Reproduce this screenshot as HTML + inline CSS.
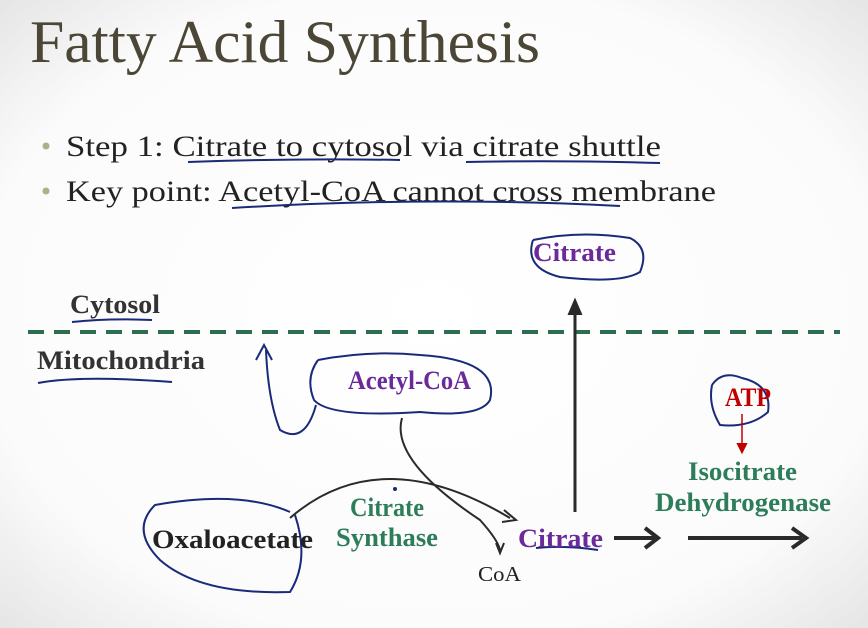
<!DOCTYPE html>
<html><head><meta charset="utf-8"><style>
html,body{margin:0;padding:0;width:868px;height:628px;overflow:hidden;background:#f4f4f4;}
svg{display:block;}
.t{font-family:"Liberation Serif",serif;}
</style></head><body>
<svg width="868" height="628" viewBox="0 0 868 628">
<defs>
<radialGradient id="bg" cx="50%" cy="50%" r="70%">
<stop offset="0" stop-color="#ffffff"/><stop offset="0.75" stop-color="#fbfbfb"/><stop offset="1" stop-color="#e6e6e6"/>
</radialGradient>
</defs>
<rect width="868" height="628" fill="url(#bg)"/>
<text class="t" x="30" y="62" font-size="60" fill="#4b4636" textLength="510" lengthAdjust="spacingAndGlyphs">Fatty Acid Synthesis</text>
<g class="t" font-size="30" fill="#222">
<circle cx="46" cy="146" r="3.5" fill="#a9b38a"/>
<text x="66" y="156" textLength="595" lengthAdjust="spacingAndGlyphs">Step 1: Citrate to cytosol via citrate shuttle</text>
<circle cx="46" cy="191" r="3.5" fill="#a9b38a"/>
<text x="66" y="201" textLength="650" lengthAdjust="spacingAndGlyphs">Key point: Acetyl-CoA cannot cross membrane</text>
</g>
<g fill="none" stroke="#1a2a7a" stroke-width="2">
<path d="M188 162 Q300 158 400 160"/><path d="M466 162 Q560 160 660 163"/>
<path d="M232 208 Q430 196 620 206"/>
<path d="M533 240 Q524 268 560 277 Q620 284 640 272 Q650 248 630 238 Q580 230 533 240"/>
<path d="M72 322 Q110 318 152 320"/>
<path d="M38 383 Q80 375 172 382"/>
<path d="M318 360 Q370 350 420 355 Q500 360 490 400 Q480 418 420 412 Q330 418 314 400 Q305 378 318 360"/>
<path d="M316 405 Q305 445 280 430 Q268 400 266 350 M256 360 L264 345 L272 360"/>
<path d="M290 512 Q240 490 155 505 Q130 530 160 560 Q200 595 290 592 Q310 560 295 515"/>
<path d="M712 385 Q722 370 742 378 Q772 385 768 412 Q750 428 720 425 Q708 405 712 385"/>
<path d="M536 548 Q565 545 598 550"/>
</g>
<line x1="28" y1="332" x2="840" y2="332" stroke="#2e6e50" stroke-width="4" stroke-dasharray="16,10"/>
<g class="t" font-weight="bold" font-size="26">
<text x="70" y="313" fill="#333" textLength="90" lengthAdjust="spacingAndGlyphs">Cytosol</text>
<text x="37" y="369" fill="#333" textLength="168" lengthAdjust="spacingAndGlyphs">Mitochondria</text>
<text x="533" y="261" fill="#6a2a9a" textLength="83" lengthAdjust="spacingAndGlyphs">Citrate</text>
<text x="348" y="389" fill="#6a2a9a" textLength="123" lengthAdjust="spacingAndGlyphs">Acetyl-CoA</text>
<text x="725" y="406" fill="#c00000" textLength="46" lengthAdjust="spacingAndGlyphs">ATP</text>
<text x="688" y="480" fill="#2e7d5a" textLength="109" lengthAdjust="spacingAndGlyphs">Isocitrate</text>
<text x="655" y="511" fill="#2e7d5a" textLength="176" lengthAdjust="spacingAndGlyphs">Dehydrogenase</text>
<text x="350" y="516" fill="#2e7d5a" textLength="74" lengthAdjust="spacingAndGlyphs">Citrate</text>
<text x="336" y="546" fill="#2e7d5a" textLength="102" lengthAdjust="spacingAndGlyphs">Synthase</text>
<text x="152" y="548" fill="#222" textLength="161" lengthAdjust="spacingAndGlyphs">Oxaloacetate</text>
<text x="518" y="547" fill="#6a2a9a" textLength="85" lengthAdjust="spacingAndGlyphs">Citrate</text>
<text x="478" y="581" font-size="21" font-weight="normal" fill="#222" textLength="43" lengthAdjust="spacingAndGlyphs">CoA</text>
</g>
<g stroke="#2a2a2a" fill="none" stroke-width="2">
<line x1="575" y1="512" x2="575" y2="310" stroke-width="3"/>
<path d="M569 314 L575 300 L581 314 Z" fill="#2a2a2a"/>
<path d="M290 518 Q380 440 510 518"/><path d="M504 510 L516 520 L502 522"/>
<path d="M402 418 Q390 460 480 520 Q498 540 500 550"/><path d="M496 543 L500 553 L504 543"/>
<path d="M614 538 L655 538" stroke-width="4"/><path d="M645 528 L658 538 L645 548" stroke-width="4"/>
<path d="M688 538 L802 538" stroke-width="4"/><path d="M792 528 L806 538 L792 548" stroke-width="4"/>
<line x1="742" y1="414" x2="742" y2="448" stroke="#c00000" stroke-width="1.5"/>
<path d="M738 444 L742 452 L746 444 Z" fill="#c00000" stroke="#c00000"/>
</g>
<circle cx="395" cy="489" r="2" fill="#1a2a7a"/>
</svg>
</body></html>
